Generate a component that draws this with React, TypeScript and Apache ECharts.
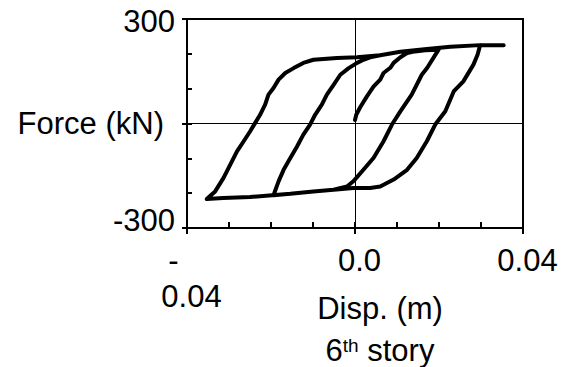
import React, { useEffect, useRef } from 'react';
import * as echarts from 'echarts';

// Hysteresis path of the 6th story: [disp (m), force (kN)]
const initialLoading: [number, number][] = [
  [0.0, 10], [0.0003, 25], [0.0012, 46], [0.0028, 77], [0.0044, 106], [0.006, 126],
  [0.0068, 145], [0.0084, 160], [0.0092, 174], [0.0108, 190], [0.0124, 202],
  [0.0143, 207], [0.0167, 210], [0.0199, 212],
];
const firstUnloading: [number, number][] = [
  [0.019, 195], [0.0172, 160], [0.0159, 140], [0.0135, 83], [0.0108, 35], [0.0088, -3],
  [0.0068, -51], [0.0044, -99], [0.002, -133], [-0.0004, -166], [-0.0019, -181],
  [-0.0051, -190], [-0.0099, -195], [-0.0154, -202], [-0.0194, -206],
];
const firstReloading: [number, number][] = [
  [-0.0182, -166], [-0.017, -133], [-0.0154, -99], [-0.0138, -66], [-0.0123, -32],
  [-0.0107, -3], [-0.0095, 25], [-0.0079, 54], [-0.0067, 83], [-0.0051, 111],
  [-0.0035, 140], [-0.0015, 159], [0.0005, 174], [0.002, 183], [0.0036, 190],
  [0.006, 196], [0.0108, 206], [0.0171, 214], [0.0227, 220], [0.0298, 225],
];
const secondUnloading: [number, number][] = [
  [0.0292, 198], [0.0282, 169], [0.0258, 121], [0.0235, 92], [0.0215, 35], [0.0191, -3],
  [0.0171, -51], [0.0147, -99], [0.0124, -133], [0.0092, -161], [0.006, -181],
  [0.0036, -185], [-0.0004, -185], [-0.0051, -190], [-0.0099, -195], [-0.0154, -202],
  [-0.025, -211], [-0.0314, -214], [-0.0353, -217],
];
const secondReloading: [number, number][] = [
  [-0.0333, -195], [-0.0313, -156], [-0.0297, -118], [-0.0281, -80], [-0.0265, -51],
  [-0.025, -23], [-0.0238, 1], [-0.0226, 25], [-0.0214, 54], [-0.0206, 83],
  [-0.0194, 102], [-0.0182, 126], [-0.0166, 145], [-0.0146, 159], [-0.0123, 174],
  [-0.0099, 183], [-0.0043, 188], [0.0005, 190], [0.006, 196], [0.0108, 206],
  [0.0171, 214], [0.0227, 220], [0.0298, 225], [0.0354, 225],
];

const xTicks = [-0.04, 0, 0.04];
const xTickLabels = ['-\n0.04', '0.0', '0.04'];
const xMinorStep = 0.01;
const yTicks = [-300, 0, 300];
const yTickLabels = ['-300', '', '300'];
const yMinorStep = 100;

const FONT = '"Liberation Sans", Arial, Helvetica, sans-serif';
const BLACK = '#000';

function xLabel(v: number): string {
  const i = xTicks.findIndex((t) => Math.abs(t - v) < 1e-9);
  if (i < 0) return '';
  const lines = xTickLabels[i].split('\n');
  if (lines.length > 1) return `{m|${lines[0]}}\n{v|${lines[1]}}`;
  return `{v|${lines[0]}}`;
}

function yLabel(v: number): string {
  const i = yTicks.findIndex((t) => Math.abs(t - v) < 1e-9);
  if (i < 0 || !yTickLabels[i]) return '';
  return v > 0 ? `{t|${yTickLabels[i]}}` : `{b|${yTickLabels[i]}}`;
}

export default function App() {
  const ref = useRef<HTMLDivElement>(null);
  useEffect(() => {
    if (!ref.current) return;
    const chart = echarts.init(ref.current, null, { renderer: 'svg' });
    const path = [
      ...initialLoading,
      ...firstUnloading,
      ...firstReloading,
      ...secondUnloading,
      ...secondReloading,
    ];
    const txt = { fontFamily: FONT, fontSize: 31, color: BLACK };
    const xMin = xTicks[0];
    const xMax = xTicks[xTicks.length - 1];
    const yMin = yTicks[0];
    const yMax = yTicks[yTicks.length - 1];
    const option: any = {
      animation: false,
      backgroundColor: '#fff',
      grid: {
        left: 187,
        top: 19,
        width: 336,
        height: 209,
        show: true,
        borderColor: BLACK,
        borderWidth: 2,
        containLabel: false,
        outerBoundsMode: 'none',
      },
      xAxis: [
        {
          type: 'value',
          position: 'bottom',
          min: xMin,
          max: xMax,
          interval: xTicks[1] - xTicks[0],
          axisLine: { show: true, onZero: false, lineStyle: { color: BLACK, width: 2 } },
          axisTick: { show: true, length: 6, lineStyle: { color: BLACK, width: 2 } },
          splitLine: { show: true, lineStyle: { color: BLACK, width: 1 } },
          axisLabel: {
            show: true,
            showMinLabel: true,
            showMaxLabel: true,
            hideOverlap: false,
            margin: 14,
            formatter: xLabel,
            ...txt,
            lineHeight: 36,
            padding: [0, 0, 0, 9],
            rich: {
              m: { ...txt, lineHeight: 36, padding: [0, 36, 0, 0] },
              v: { ...txt, lineHeight: 36 },
            },
          },
          name: '{a|Disp. (m)}\n{b|6}{s|th}{b| story}',
          nameLocation: 'middle',
          nameGap: 58,
          nameMoveOverlap: false,
          nameTextStyle: {
            ...txt,
            padding: [0, 0, 0, 50],
            rich: {
              a: { ...txt, lineHeight: 44 },
              b: { ...txt, lineHeight: 40 },
              s: { fontFamily: FONT, fontSize: 19, color: BLACK, lineHeight: 20, padding: [0, 0, 10, 0] },
            },
          },
        },
        {
          // minor ticks, drawn inward
          type: 'value',
          position: 'bottom',
          offset: 0,
          min: xMin,
          max: xMax,
          interval: xMinorStep,
          axisLine: { show: false, onZero: false },
          axisTick: { show: true, inside: true, length: 6, lineStyle: { color: BLACK, width: 2 } },
          splitLine: { show: false },
          axisLabel: { show: false },
        },
      ],
      yAxis: [
        {
          type: 'value',
          position: 'left',
          min: yMin,
          max: yMax,
          interval: yTicks[1] - yTicks[0],
          axisLine: { show: true, onZero: false, lineStyle: { color: BLACK, width: 2 } },
          axisTick: { show: true, length: 5, lineStyle: { color: BLACK, width: 2 } },
          splitLine: { show: true, lineStyle: { color: BLACK, width: 1 } },
          axisLabel: {
            show: true,
            showMinLabel: true,
            showMaxLabel: true,
            hideOverlap: false,
            margin: 12,
            formatter: yLabel,
            ...txt,
            rich: {
              t: { ...txt, padding: [4, 0, 0, 0] },
              b: { ...txt, padding: [0, 0, 16, 0] },
            },
          },
          name: 'Force (kN)',
          nameLocation: 'middle',
          nameRotate: 0,
          nameGap: 23,
          nameMoveOverlap: false,
          nameTextStyle: { ...txt },
        },
        {
          // minor ticks, drawn inward
          type: 'value',
          position: 'left',
          offset: 0,
          min: yMin,
          max: yMax,
          interval: yMinorStep,
          axisLine: { show: false, onZero: false },
          axisTick: { show: true, inside: true, length: 5, lineStyle: { color: BLACK, width: 2 } },
          splitLine: { show: false },
          axisLabel: { show: false },
        },
      ],
      series: [
        {
          type: 'line',
          xAxisIndex: 0,
          yAxisIndex: 0,
          data: path,
          showSymbol: false,
          symbol: 'none',
          smooth: false,
          lineStyle: { color: BLACK, width: 4, cap: 'round', join: 'round' },
          z: 5,
        },
      ],
    };
    chart.setOption(option);
    return () => chart.dispose();
  }, []);
  return (
    <div
      ref={ref}
      style={{ position: 'fixed', left: 0, top: 0, width: 562, height: 367, background: '#fff' }}
    />
  );
}
